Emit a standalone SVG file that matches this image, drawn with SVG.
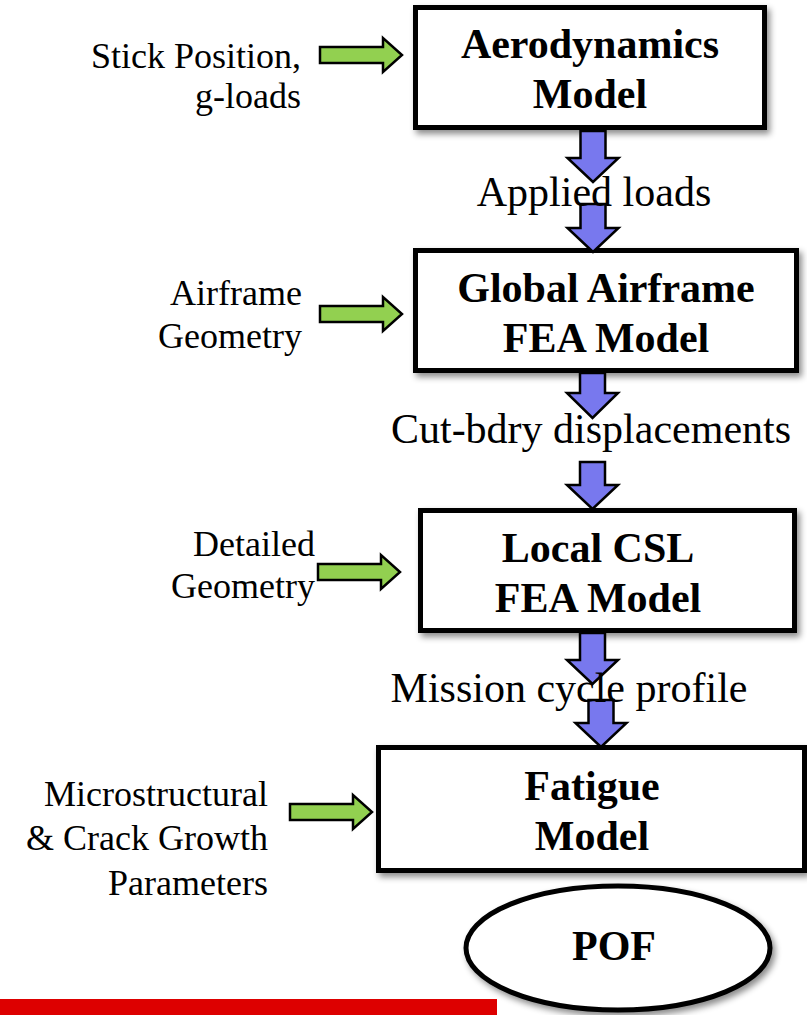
<svg xmlns="http://www.w3.org/2000/svg" width="807" height="1015" viewBox="0 0 807 1015">
<defs>
<filter id="sh" x="-10%" y="-10%" width="125%" height="130%">
<feDropShadow dx="3" dy="4" stdDeviation="3" flood-color="#000" flood-opacity="0.45"/>
</filter>
</defs>
<style>
.box{fill:#fff;stroke:#000;stroke-width:5;filter:url(#sh)}
.title{font-family:"Liberation Serif","Times New Roman",serif;font-weight:bold;font-size:42px;text-anchor:middle;fill:#000}
.lbl{font-family:"Liberation Serif","Times New Roman",serif;font-size:42px;text-anchor:middle;fill:#000}
.side{font-family:"Liberation Serif","Times New Roman",serif;font-size:36px;text-anchor:end;fill:#000}
.blue{fill:#7878ee;stroke:#000;stroke-width:2.5;stroke-linejoin:miter}
.green{fill:#92d050;stroke:#000;stroke-width:2.5;stroke-linejoin:miter}
</style>
<rect width="807" height="1015" fill="#fff"/>
<g id="aero">
<rect class="box" x="415.5" y="7.5" width="349" height="120"/>
<text class="title" x="590" y="58">Aerodynamics</text>
<text class="title" x="590" y="108">Model</text>
</g>
<g id="global">
<rect class="box" x="415.5" y="250.5" width="381" height="120"/>
<text class="title" x="606" y="302">Global Airframe</text>
<text class="title" x="606" y="352">FEA Model</text>
</g>
<g id="local">
<rect class="box" x="420.5" y="510.5" width="374" height="120"/>
<text class="title" x="598" y="562">Local CSL</text>
<text class="title" x="598" y="612">FEA Model</text>
</g>
<g id="fatigue">
<rect class="box" x="378.5" y="747.5" width="426" height="123"/>
<text class="title" x="592" y="800">Fatigue</text>
<text class="title" x="592" y="850">Model</text>
</g>
<g id="pof">
<ellipse cx="618" cy="948" rx="152" ry="62" fill="#fff" stroke="#000" stroke-width="5" filter="url(#sh)"/>
<text class="title" x="614" y="960">POF</text>
</g>
<g id="inputs">
<text class="side" x="301" y="68">Stick Position,</text>
<text class="side" x="301" y="108">g-loads</text>
<text class="side" x="302" y="305">Airframe</text>
<text class="side" x="302" y="348">Geometry</text>
<text class="side" x="315" y="556">Detailed</text>
<text class="side" x="315" y="598">Geometry</text>
<text class="side" x="268" y="806">Microstructural</text>
<text class="side" x="268" y="850">&amp; Crack Growth</text>
<text class="side" x="268" y="895">Parameters</text>
</g>
<g id="connectors">
<path class="green" d="M320,47 H383 V38 L402,55 L383,72 V63 H320 Z"/>
<path class="green" d="M320,306 H383 V297 L402,314 L383,331 V322 H320 Z"/>
<path class="green" d="M318,564 H381 V555 L400,572 L381,589 V580 H318 Z"/>
<path class="green" d="M290,804 H353 V795 L372,812 L353,829 V820 H290 Z"/>
<path class="blue" d="M580.5,131 H605.5 V158 H618.5 L593,182 L567.5,158 H580.5 Z"/>
<path class="blue" d="M580.5,204 H605.5 V228 H618.5 L593,252 L567.5,228 H580.5 Z"/>
<path class="blue" d="M580,373 H605 V393 H618 L592.5,418 L567,393 H580 Z"/>
<path class="blue" d="M580,462 H605 V485 H618 L592.5,509 L567,485 H580 Z"/>
<path class="blue" d="M580,633 H605 V660 H618 L592.5,684 L567,660 H580 Z"/>
<path class="blue" d="M588.5,700 H613.5 V723 H626.5 L601,747 L575.5,723 H588.5 Z"/>
</g>
<g id="labels">
<text class="lbl" x="594" y="206">Applied loads</text>
<text class="lbl" x="591" y="443">Cut-bdry displacements</text>
<text class="lbl" x="569" y="702">Mission cycle profile</text>
</g>
<rect id="redbar" x="0" y="999" width="497" height="16" fill="#dd0000"/>
</svg>
